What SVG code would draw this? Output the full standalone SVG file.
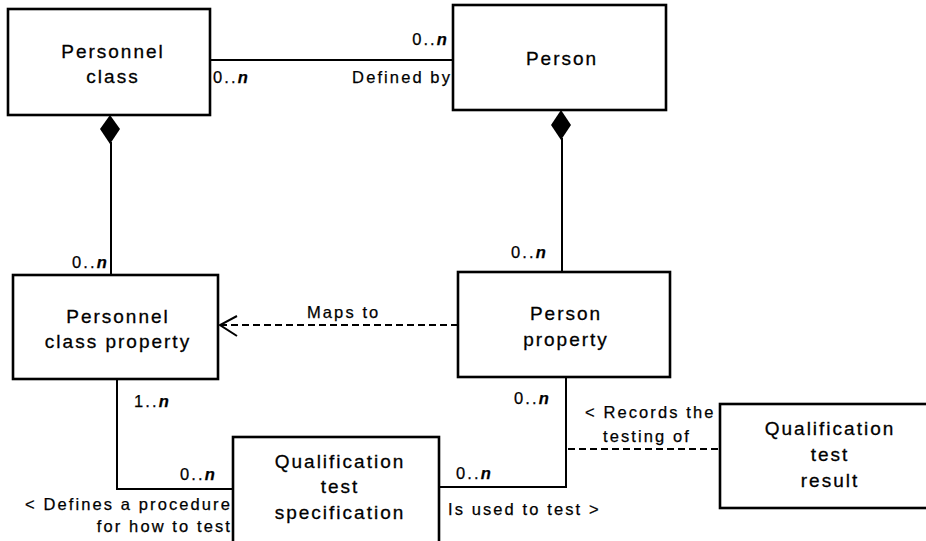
<svg xmlns="http://www.w3.org/2000/svg" width="926" height="541" viewBox="0 0 926 541">
<style>
.box{fill:#fff;stroke:#000;stroke-width:2.6}
.ln{fill:none;stroke:#000;stroke-width:2}
.dash{fill:none;stroke:#000;stroke-width:2;stroke-dasharray:7,4}
.nt{font-family:"Liberation Sans",Arial,sans-serif;font-size:19px;letter-spacing:2px;text-anchor:middle;fill:#000;stroke:#000;stroke-width:0.3}
.lb{font-family:"Liberation Sans",Arial,sans-serif;font-size:16.5px;letter-spacing:2.1px;fill:#000;stroke:#000;stroke-width:0.25}
.r{text-anchor:end}
.n{font-style:italic;font-weight:bold}
</style>
<g id="connectors">
<line class="ln" x1="210" y1="60" x2="453" y2="60"/>
<line class="ln" x1="111" y1="142" x2="111" y2="275"/>
<path d="M110,115 L120,129 L110,144 L100,129 Z" fill="#000"/>
<line class="ln" x1="562" y1="138" x2="562" y2="272"/>
<path d="M561,110 L571,125 L561,140 L551,125 Z" fill="#000"/>
<line class="dash" x1="458" y1="325" x2="222" y2="325"/>
<path class="ln" d="M237,316 L220,325 L237,336" stroke-width="2.4"/>
<path class="ln" d="M117,379 V489 H233"/>
<path class="ln" d="M566,377 V487 H439"/>
<line class="dash" x1="568" y1="449" x2="720" y2="449"/>
<text class="lb" x="213" y="83">0..<tspan class="n">n</tspan></text>
<text class="lb r" x="449" y="45">0..<tspan class="n">n</tspan></text>
<text class="lb r" x="452" y="83">Defined by</text>
<text class="lb" x="72" y="268">0..<tspan class="n">n</tspan></text>
<text class="lb" x="511" y="258">0..<tspan class="n">n</tspan></text>
<text class="lb" x="307" y="318">Maps to</text>
<text class="lb" x="134" y="407">1..<tspan class="n">n</tspan></text>
<text class="lb" x="180" y="480">0..<tspan class="n">n</tspan></text>
<text class="lb r" x="232" y="510">&lt; Defines a procedure</text>
<text class="lb r" x="232" y="532">for how to test</text>
<text class="lb" x="514" y="404">0..<tspan class="n">n</tspan></text>
<text class="lb" x="456" y="479">0..<tspan class="n">n</tspan></text>
<text class="lb" x="448" y="515">Is used to test &gt;</text>
<text class="lb" x="585" y="418">&lt; Records the</text>
<text class="lb" x="603" y="442">testing of</text>
</g>
<g id="personnel-class">
<rect class="box" x="8" y="9" width="202" height="106"/>
<text class="nt" x="113" y="58">Personnel</text>
<text class="nt" x="113" y="83">class</text>
</g>
<g id="person">
<rect class="box" x="453" y="5" width="213" height="105"/>
<text class="nt" x="562" y="65">Person</text>
</g>
<g id="personnel-class-property">
<rect class="box" x="13" y="275" width="205" height="104"/>
<text class="nt" x="118" y="323">Personnel</text>
<text class="nt" x="118" y="348">class property</text>
</g>
<g id="person-property">
<rect class="box" x="458" y="272" width="212" height="105"/>
<text class="nt" x="566" y="320">Person</text>
<text class="nt" x="566" y="346">property</text>
</g>
<g id="qualification-test-specification">
<rect class="box" x="233" y="437" width="206" height="110"/>
<text class="nt" x="340" y="468">Qualification</text>
<text class="nt" x="340" y="493">test</text>
<text class="nt" x="340" y="519">specification</text>
</g>
<g id="qualification-test-result">
<rect class="box" x="720" y="404" width="210" height="104"/>
<text class="nt" x="830" y="435">Qualification</text>
<text class="nt" x="830" y="461">test</text>
<text class="nt" x="830" y="487">result</text>
</g>
</svg>
